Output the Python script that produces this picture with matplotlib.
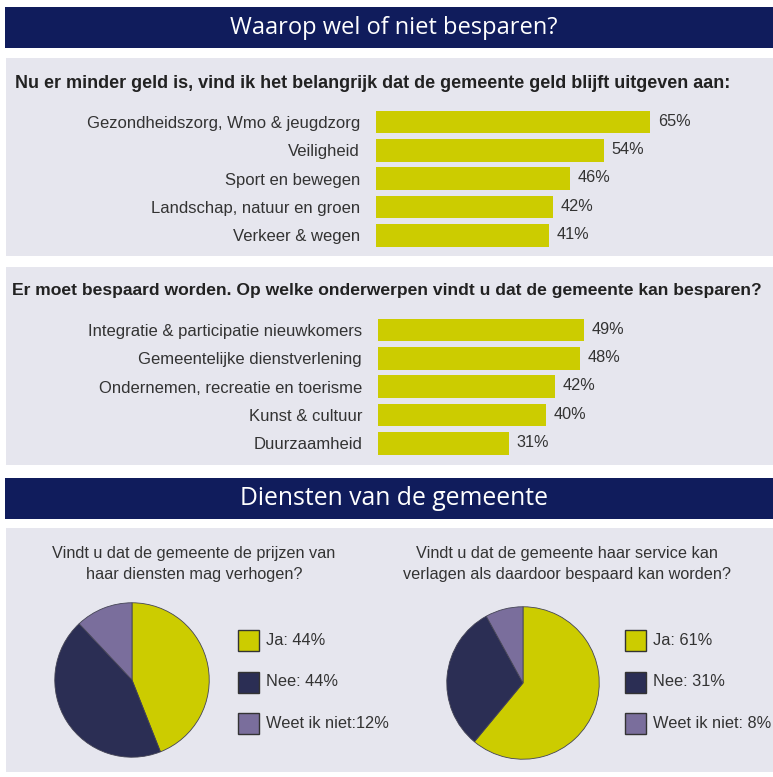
import matplotlib
matplotlib.use('Agg')
import matplotlib.pyplot as plt
from matplotlib.patches import Rectangle

plt.rcParams['font.family'] = ['Liberation Sans', 'DejaVu Sans']

W, H = 773, 777

# data
title_top = 'Waarop wel of niet besparen?'
title_bottom = 'Diensten van de gemeente'

q1 = 'Nu er minder geld is, vind ik het belangrijk dat de gemeente geld blijft uitgeven aan:'
q1_labels = ['Gezondheidszorg, Wmo & jeugdzorg', 'Veiligheid', 'Sport en bewegen',
             'Landschap, natuur en groen', 'Verkeer & wegen']
q1_values = [65, 54, 46, 42, 41]

q2 = 'Er moet bespaard worden. Op welke onderwerpen vindt u dat de gemeente kan besparen?'
q2_labels = ['Integratie & participatie nieuwkomers', 'Gemeentelijke dienstverlening',
             'Ondernemen, recreatie en toerisme', 'Kunst & cultuur', 'Duurzaamheid']
q2_values = [49, 48, 42, 40, 31]

pie1_title = 'Vindt u dat de gemeente de prijzen van\nhaar diensten mag verhogen?'
pie1_values = [44, 44, 12]
pie1_legend = ['Ja: 44%', 'Nee: 44%', 'Weet ik niet:12%']

pie2_title = 'Vindt u dat de gemeente haar service kan\nverlagen als daardoor bespaard kan worden?'
pie2_values = [61, 31, 8]
pie2_legend = ['Ja: 61%', 'Nee: 31%', 'Weet ik niet: 8%']

navy_head = '#101c5c'
panel_bg = '#e6e6ee'
yellow = '#cccc00'
navy = '#2b2e54'
purple = '#7a6e9c'
txt = '#333333'
pie_colors = [yellow, navy, purple]

fig = plt.figure(figsize=(W / 100, H / 100), dpi=100)
fig.patch.set_facecolor('white')


def fx(x):
    return x / W


def fy(y):
    return 1 - y / H


def box(x0, y0, x1, y1, color, ec='none', lw=0, z=-1):
    fig.patches.append(Rectangle((fx(x0), fy(y1)), fx(x1) - fx(x0), fy(y0) - fy(y1),
                                 transform=fig.transFigure, facecolor=color,
                                 edgecolor=ec, linewidth=lw, zorder=z))


# headers and panels
box(5, 7, 773, 48, navy_head)
fig.text(fx(394), fy(28), title_top, color='white', fontsize=17, family='Open Sans',
         ha='center', va='center')
box(6, 58, 773, 256, panel_bg)
box(6, 267, 773, 465, panel_bg)
box(5, 478, 773, 519, navy_head)
fig.text(fx(394), fy(498), title_bottom, color='white', fontsize=17.8, family='Open Sans',
         ha='center', va='center')
box(6, 528, 773, 772, panel_bg)

fig.text(fx(15), fy(83), q1, fontsize=13.0, fontweight='bold', color='#222222',
         ha='left', va='center')
fig.text(fx(12), fy(291), q2, fontsize=12.6, fontweight='bold', color='#222222',
         ha='left', va='center')


def bar_panel(left, top, labels, values, pxper=4.22, step=28.3):
    n = len(labels)
    width = 100 * pxper
    height = n * step
    ax = fig.add_axes([fx(left), fy(top + height), width / W, height / H])
    ax.barh(range(n), values, height=0.8, color=yellow)
    ax.set_xlim(0, 100)
    ax.set_ylim(n - 0.5, -0.5)
    ax.set_facecolor('none')
    for s in ax.spines.values():
        s.set_visible(False)
    ax.set_yticks(range(n))
    ax.set_yticklabels(labels, fontsize=12, color=txt)
    ax.tick_params(left=False, bottom=False, labelbottom=False, pad=8)
    for i, v in enumerate(values):
        ax.text(v + 1.8, i - 0.03, f'{v}%', fontsize=11.7, color=txt, va='center')


bar_panel(376, 108, q1_labels, q1_values)
bar_panel(378, 316, q2_labels, q2_values, pxper=4.21)


def pie_panel(cx, cy, r, values, title, tcx, legend, lx):
    ax = fig.add_axes([fx(cx - r), fy(cy + r), 2 * r / W, 2 * r / H])
    ax.pie(values, colors=pie_colors, startangle=90, counterclock=False,
           wedgeprops=dict(edgecolor='#444455', linewidth=0.6))
    ax.set_xlim(-1.01, 1.01)
    ax.set_ylim(-1.01, 1.01)
    ax.set_aspect('equal')
    ax.axis('off')
    fig.text(fx(tcx), fy(564), title, fontsize=11.7, color=txt, ha='center', va='center',
             linespacing=1.55)
    for i, lab in enumerate(legend):
        y0 = 630 + i * 41.5
        box(lx, y0, lx + 21, y0 + 21, pie_colors[i], ec='#333333', lw=1.0, z=1)
        fig.text(fx(lx + 28), fy(y0 + 10.5), lab, fontsize=11.8, color=txt,
                 ha='left', va='center')


pie_panel(132, 680, 78, pie1_values, pie1_title, 194, pie1_legend, 238)
pie_panel(523, 683, 77, pie2_values, pie2_title, 567, pie2_legend, 625)

fig.savefig('out.png', dpi=100)
